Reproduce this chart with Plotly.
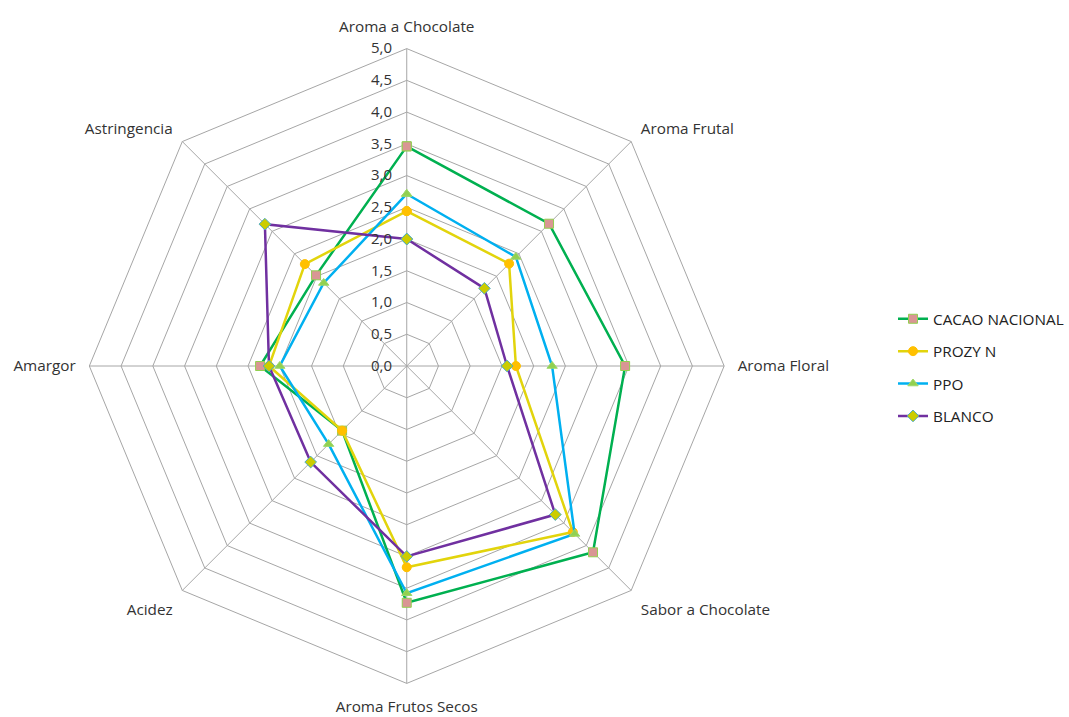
import plotly.graph_objects as go

categories = ["Aroma a Chocolate", "Aroma Frutal", "Aroma Floral", "Sabor a Chocolate",
              "Aroma Frutos Secos", "Acidez", "Amargor", "Astringencia"]

cacao_nacional = [3.46, 3.17, 3.44, 4.15, 3.73, 1.44, 2.31, 2.02]
prozyn = [2.44, 2.28, 1.72, 3.70, 3.17, 1.44, 2.17, 2.27]
ppo = [2.71, 2.43, 2.29, 3.74, 3.58, 1.74, 2.00, 1.85]
blanco = [2.00, 1.73, 1.58, 3.31, 3.00, 2.14, 2.17, 3.16]

radial_ticks = [0, 0.5, 1, 1.5, 2, 2.5, 3, 3.5, 4, 4.5, 5]

series = [
    ("CACAO NACIONAL", cacao_nacional, "#00B050", "square", "#D99694", "#92D050"),
    ("PROZY N", prozyn, "#E2D40C", "circle", "#FFC000", "#FFC000"),
    ("PPO", ppo, "#00B0F0", "triangle-up", "#92D050", "#9ED86A"),
    ("BLANCO", blanco, "#7030A0", "diamond", "#CCCC00", "#4BACC6"),
]

fig = go.Figure()
for name, vals, lc, sym, mfill, mline in series:
    fig.add_trace(go.Scatterpolar(
        r=vals + vals[:1],
        theta=categories + categories[:1],
        mode="lines+markers",
        name=name,
        legendgroup=name,
        line=dict(color=lc, width=2.5),
        marker=dict(symbol=sym, size=9, color=mfill, line=dict(color=mline, width=1)),
    ))

fig.update_layout(
    width=1069, height=717,
    margin=dict(l=0, r=0, t=0, b=0),
    paper_bgcolor="white",
    plot_bgcolor="white",
    separators=", ",
    font=dict(family="Open Sans, Lato, sans-serif", size=13, color="#404040"),
    polar=dict(
        domain=dict(x=[89.5 / 1069, 725.5 / 1069], y=[33 / 717, 669 / 717]),
        bgcolor="white",
        gridshape="linear",
        angularaxis=dict(
            direction="clockwise",
            rotation=90,
            showline=True,
            linecolor="#A6A6A6",
            linewidth=1,
            gridcolor="#A6A6A6",
            gridwidth=1,
            ticks="outside",
            ticklen=10,
            tickcolor="rgba(0,0,0,0)",
            tickfont=dict(size=15.3, color="#333333"),
        ),
        radialaxis=dict(
            range=[0, 5],
            tickvals=radial_ticks,
            tickformat=".1f",
            angle=90,
            tickangle=90,
            side="counterclockwise",
            showline=False,
            gridcolor="#A6A6A6",
            gridwidth=1,
            ticks="outside",
            ticklen=9,
            tickcolor="rgba(0,0,0,0)",
            tickfont=dict(size=15, color="#333333"),
        ),
    ),
    legend=dict(
        x=0.837, y=0.487, xanchor="left", yanchor="middle",
        traceorder="grouped",
        tracegroupgap=9.5,
        font=dict(size=15.3, color="#222222"),
        itemwidth=30,
    ),
)

fig.write_html("out.html")
